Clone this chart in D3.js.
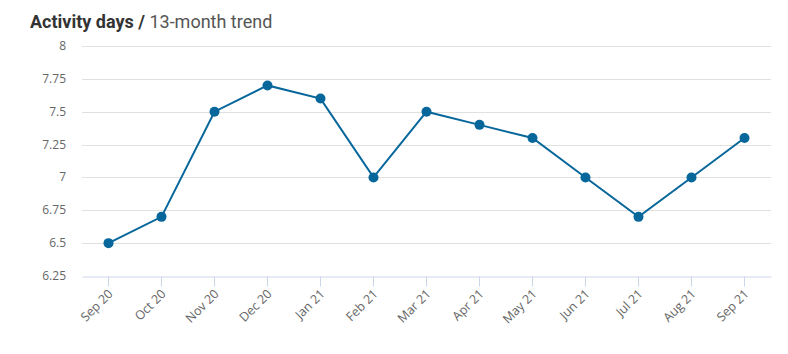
<!DOCTYPE html>
<html>
<head>
<meta charset="utf-8">
<script src="https://cdn.jsdelivr.net/npm/d3@7"></script>
<style>
  body { margin: 0; background: #fff; }
  svg { display: block; }
</style>
</head>
<body>
<svg width="788" height="354"></svg>
<script>
const months = ["Sep 20", "Oct 20", "Nov 20", "Dec 20", "Jan 21", "Feb 21", "Mar 21",
                "Apr 21", "May 21", "Jun 21", "Jul 21", "Aug 21", "Sep 21"];
const activityDays = [6.5, 6.7, 7.5, 7.7, 7.6, 7.0, 7.5, 7.4, 7.3, 7.0, 6.7, 7.0, 7.3];
const yTicks = [6.25, 6.5, 6.75, 7, 7.25, 7.5, 7.75, 8];

const svg = d3.select("svg");
const plotLeft = 82, plotRight = 771, plotTop = 46, plotBottom = 276;

// title
const title = svg.append("text")
    .attr("x", 30).attr("y", 28)
    .style("font-family", "Roboto, sans-serif")
    .style("font-size", "18px");
title.append("tspan").text("Activity days / ").attr("font-weight", "bold").attr("fill", "#333");
title.append("tspan").text("13-month trend").attr("fill", "#555");

const x = d3.scaleBand().domain(months).range([plotLeft, plotRight]);
const y = d3.scaleLinear().domain([6.25, 8]).range([plotBottom, plotTop]);

// grid
svg.append("g").selectAll("line")
    .data(yTicks.filter(d => d !== 6.25))
    .enter().append("line")
    .attr("x1", plotLeft).attr("x2", plotRight)
    .attr("y1", d => Math.round(y(d)) + 0.5).attr("y2", d => Math.round(y(d)) + 0.5)
    .attr("stroke", "#e0e0e0");

// y labels
svg.append("g").selectAll("text")
    .data(yTicks)
    .enter().append("text")
    .attr("x", 66).attr("y", d => y(d) + 4)
    .attr("text-anchor", "end")
    .attr("fill", "#666")
    .style("font-family", "'Open Sans', sans-serif")
    .style("font-size", "12px")
    .text(d => d);

// x axis
const xAxis = svg.append("g")
    .attr("transform", `translate(0,${Math.round(plotBottom) + 0.5})`)
    .call(d3.axisBottom(x).tickSize(10).tickSizeOuter(0));
xAxis.select(".domain").attr("stroke", "#ccd6eb");
xAxis.selectAll(".tick line").attr("stroke", "#ccd6eb");
xAxis.selectAll(".tick text")
    .attr("fill", "#666")
    .style("font-family", "'Open Sans', sans-serif")
    .style("font-size", "12.5px")
    .attr("text-anchor", "end")
    .attr("x", 0).attr("y", 0)
    .attr("dy", "0.35em")
    .attr("transform", "translate(2,15) rotate(-45)");

// line
const line = d3.line()
    .x((d, i) => x(months[i]) + x.bandwidth() / 2)
    .y(d => y(d));

svg.append("path")
    .datum(activityDays)
    .attr("fill", "none")
    .attr("stroke", "#07679b")
    .attr("stroke-width", 2)
    .attr("d", line);

svg.append("g").selectAll("circle")
    .data(activityDays)
    .enter().append("circle")
    .attr("cx", (d, i) => x(months[i]) + x.bandwidth() / 2)
    .attr("cy", d => y(d))
    .attr("r", 5)
    .attr("fill", "#07679b");
</script>
</body>
</html>
